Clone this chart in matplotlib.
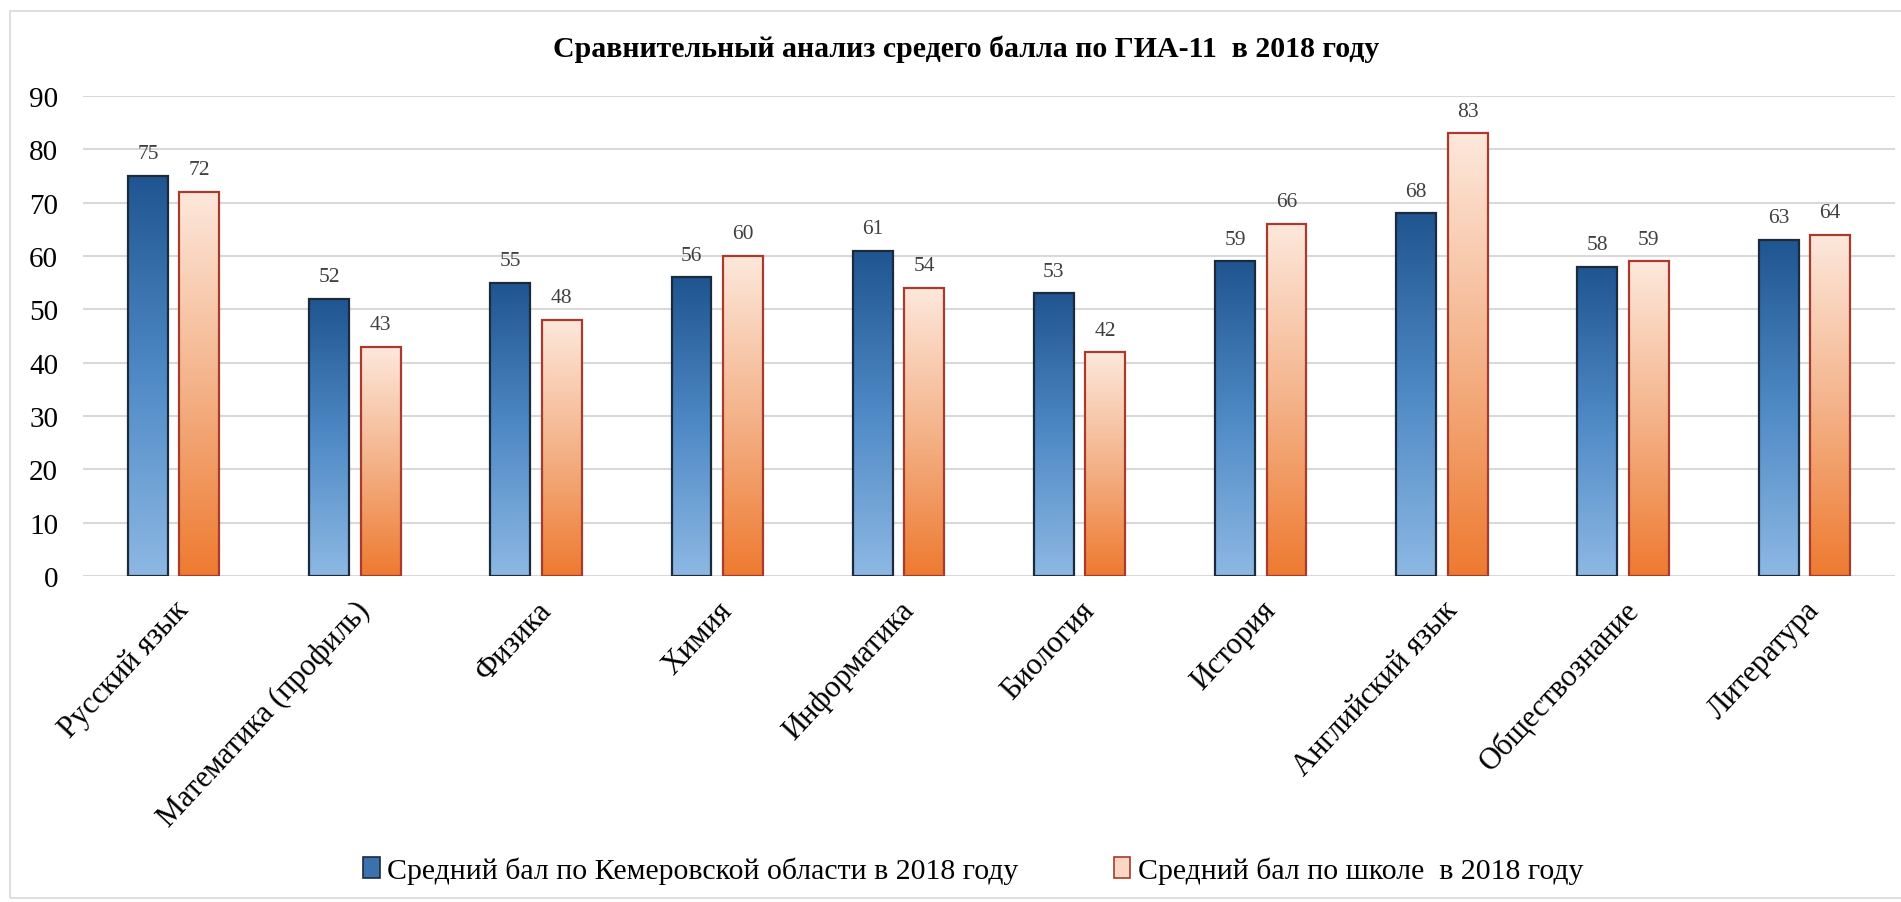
import matplotlib.pyplot as plt
import matplotlib.transforms as mtransforms
import numpy as np
from matplotlib.colors import LinearSegmentedColormap
from matplotlib.patches import Patch, Rectangle

# Data
subjects = ["Русский язык", "Математика (профиль)", "Физика", "Химия", "Информатика",
            "Биология", "История", "Английский язык", "Обществознание", "Литература"]
region_2018 = [75, 52, 55, 56, 61, 53, 59, 68, 58, 63]
school_2018 = [72, 43, 48, 60, 54, 42, 66, 83, 59, 64]
yticks = [0, 10, 20, 30, 40, 50, 60, 70, 80, 90]

title = "Сравнительный анализ средего балла по ГИА-11  в 2018 году"
label_region = "Средний бал по Кемеровской области в 2018 году"
label_school = "Средний бал по школе  в 2018 году"

plt.rcParams["font.family"] = ["Liberation Serif", "DejaVu Serif"]

blue_cmap = LinearSegmentedColormap.from_list("blue", ["#8db8e3", "#4f8ac6", "#1f5590"])
orange_cmap = LinearSegmentedColormap.from_list("orange", ["#ee7a30", "#f4b38a", "#fde8dc"])

fig = plt.figure(figsize=(19.01, 9.03), dpi=100)
ax = fig.add_axes([0.0437, 0.361, 0.9531, 0.5316])

x = np.arange(len(subjects))
w = 0.22
off = 0.142

bars_r = ax.bar(x - off, region_2018, w, facecolor="none", edgecolor="#1c2b3c", linewidth=1.6, zorder=3)
bars_s = ax.bar(x + off, school_2018, w, facecolor="none", edgecolor="#a83a2e", linewidth=1.6, zorder=3)

# vertical gradient inside every bar
grad = np.linspace(0, 1, 256).reshape(-1, 1)
for bars, cmap in [(bars_r, blue_cmap), (bars_s, orange_cmap)]:
    for b in bars:
        x0, y0 = b.get_x(), b.get_y()
        ax.imshow(grad, extent=[x0, x0 + b.get_width(), y0, y0 + b.get_height()],
                  origin="lower", aspect="auto", cmap=cmap, zorder=2)

for xi, v in zip(x - off, region_2018):
    ax.annotate(str(v), (xi, v), xytext=(0, 9), textcoords="offset points",
                ha="center", va="bottom", fontsize=15.5, color="#404040")
for xi, v in zip(x + off, school_2018):
    ax.annotate(str(v), (xi, v), xytext=(0, 9), textcoords="offset points",
                ha="center", va="bottom", fontsize=15.5, color="#404040")

ax.set_xlim(-0.5, len(subjects) - 0.5)
ax.set_ylim(0, 90)
ax.set_yticks(yticks)
ax.set_yticklabels([str(t) for t in yticks], fontsize=21)
ax.set_xticks(x)
ax.set_xticklabels(subjects, rotation=47, ha="right", rotation_mode="anchor", fontsize=22)
shift = mtransforms.ScaledTranslation(-6 / 100, 0, fig.dpi_scale_trans)
for lbl in ax.get_xticklabels():
    lbl.set_transform(lbl.get_transform() + shift)
ax.tick_params(axis="both", length=0)
ax.tick_params(axis="y", pad=18)
ax.tick_params(axis="x", pad=14)
ax.grid(axis="y", color="#d9d9d9", linewidth=1.5, zorder=0)
ax.set_axisbelow(True)
for s in ax.spines.values():
    s.set_visible(False)

fig.text(0.508, 0.946, title, ha="center", va="center", fontsize=21.5, fontweight="bold")

handles = [Patch(facecolor="#3a72ad", edgecolor="#1c2b3c", linewidth=1.2, label=label_region),
           Patch(facecolor="#fbd6c2", edgecolor="#a83a2e", linewidth=1.2, label=label_school)]
fig.legend(handles=handles, loc="center", bbox_to_anchor=(0.512, 0.035), ncol=2, frameon=False,
           fontsize=21.5, handlelength=0.55, handleheight=0.7, handletextpad=0.25, columnspacing=3.2)

fig.patches.append(Rectangle((10 / 1901, 0.004), 1.0, 1 - 12 / 903 - 0.004, transform=fig.transFigure,
                             fill=False, edgecolor="#d9d9d9", linewidth=1.2))

fig.savefig("out.png", dpi=100)
